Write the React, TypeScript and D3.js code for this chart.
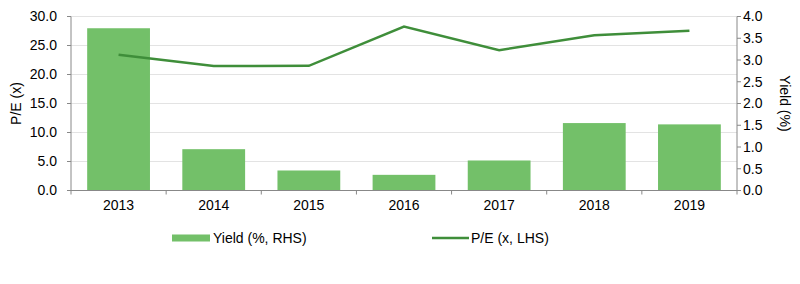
import React from "react";
import * as d3 from "d3";

const years = ["2013", "2014", "2015", "2016", "2017", "2018", "2019"];
const yieldPct = [3.73, 0.95, 0.46, 0.36, 0.69, 1.55, 1.52];
const pe = [23.4, 21.45, 21.5, 28.25, 24.2, 26.75, 27.55];
const leftTicks = [0, 5, 10, 15, 20, 25, 30];
const rightTicks = [0, 0.5, 1, 1.5, 2, 2.5, 3, 3.5, 4];

const W = 800, H = 284;
const M = { left: 71, right: 737, top: 16.5, bottom: 190.5 };
const BAR = "#73c069";
const LINE = "#3f8e3a";
const FONT = "'Liberation Sans', Arial, sans-serif";

export default function App() {
  const x = d3.scaleBand().domain(years).range([M.left, M.right]).paddingInner(0.34).paddingOuter(0.17);
  const band = d3.scaleBand().domain(years).range([M.left, M.right]);
  const yL = d3.scaleLinear().domain([0, 30]).range([M.bottom, M.top]);
  const yR = d3.scaleLinear().domain([0, 4]).range([M.bottom, M.top]);
  const line = d3.line<number>().x((_, i) => band(years[i])! + band.bandwidth() / 2).y((d) => yL(d));
  const boundaries = years.map((y) => band(y)!).concat([M.right]);
  const LY = 238;
  return (
    <svg width={W} height={H} style={{ position: "absolute", left: 0, top: 0, fontFamily: FONT }}>
      <rect width={W} height={H} fill="#fff" />
      {leftTicks.slice(1).map((t) => (
        <line key={t} x1={M.left} x2={M.right} y1={yL(t)} y2={yL(t)} stroke="#e3e3e3" strokeWidth={1} />
      ))}
      {years.map((y, i) => (
        <rect key={y} x={x(y)} y={yR(yieldPct[i])} width={x.bandwidth()} height={M.bottom - yR(yieldPct[i])} fill={BAR} />
      ))}
      <path d={line(pe)!} fill="none" stroke={LINE} strokeWidth={2.5} />
      {/* axes */}
      <line x1={M.left} x2={M.left} y1={M.top} y2={M.bottom} stroke="#888" />
      <line x1={M.right} x2={M.right} y1={M.top} y2={M.bottom} stroke="#888" />
      <line x1={M.left} x2={M.right} y1={M.bottom} y2={M.bottom} stroke="#888" />
      {leftTicks.map((t) => (
        <g key={t}>
          <line x1={M.left - 4} x2={M.left} y1={yL(t)} y2={yL(t)} stroke="#888" />
          <text x={M.left - 14} y={yL(t)} dy="0.35em" textAnchor="end" fontSize={14} fill="#000">{t.toFixed(1)}</text>
        </g>
      ))}
      {rightTicks.map((t) => (
        <g key={t}>
          <line x1={M.right} x2={M.right + 4} y1={yR(t)} y2={yR(t)} stroke="#888" />
          <text x={M.right + 6} y={yR(t)} dy="0.35em" textAnchor="start" fontSize={14} fill="#000">{t.toFixed(1)}</text>
        </g>
      ))}
      {boundaries.map((b, i) => (
        <line key={i} x1={b} x2={b} y1={M.bottom} y2={M.bottom + 4} stroke="#888" />
      ))}
      {years.map((y) => (
        <text key={y} x={band(y)! + band.bandwidth() / 2} y={M.bottom + 19} textAnchor="middle" fontSize={14} fill="#000">{y}</text>
      ))}
      <text transform={`translate(21,${(M.top + M.bottom) / 2}) rotate(-90)`} textAnchor="middle" fontSize={14} fill="#000">P/E (x)</text>
      <text transform={`translate(780,${(M.top + M.bottom) / 2}) rotate(90)`} textAnchor="middle" fontSize={14} fill="#000">Yield (%)</text>
      {/* legend */}
      <rect x={172} y={LY - 3.5} width={38} height={7} fill={BAR} />
      <text x={213} y={LY} dy="0.35em" fontSize={14} fill="#000">Yield (%, RHS)</text>
      <line x1={432} x2={469} y1={LY} y2={LY} stroke={LINE} strokeWidth={2.5} />
      <text x={471} y={LY} dy="0.35em" fontSize={14} fill="#000">P/E (x, LHS)</text>
    </svg>
  );
}
